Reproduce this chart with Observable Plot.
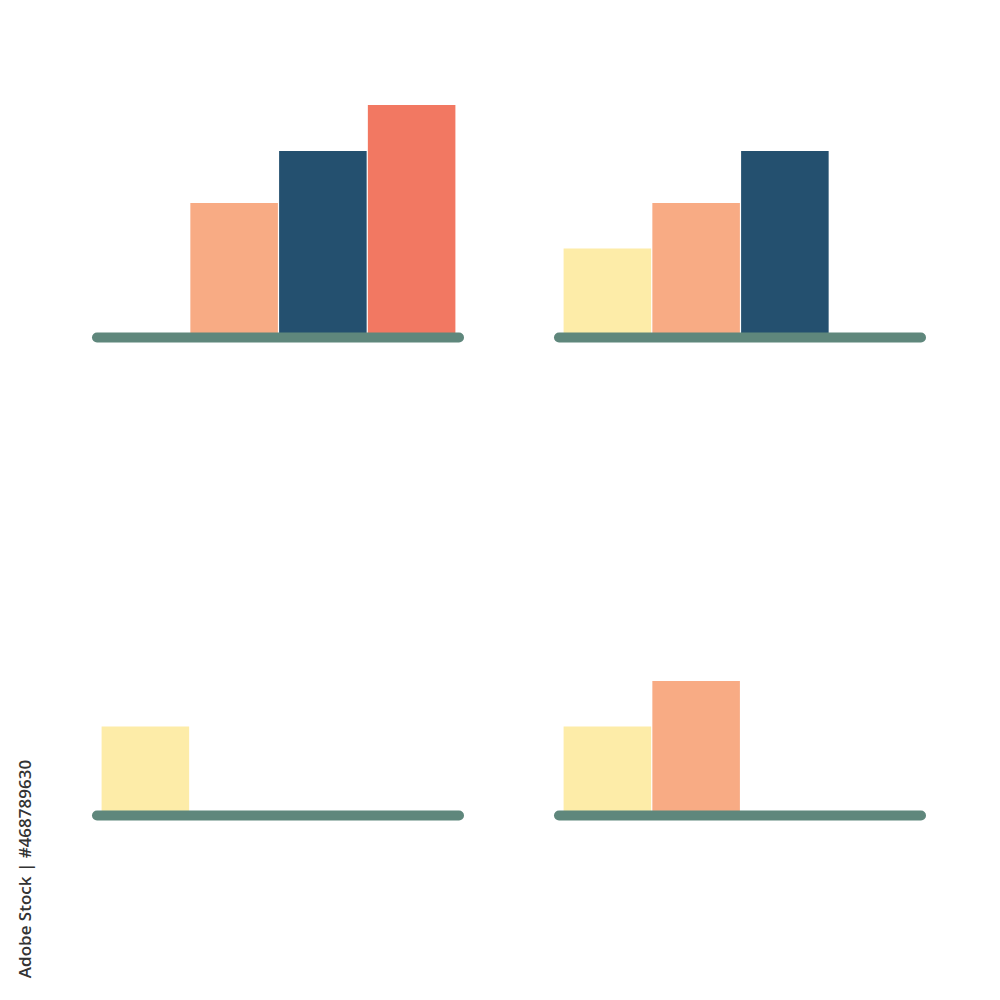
<!DOCTYPE html>
<html>
<head>
<meta charset="utf-8">
<script src="https://cdn.jsdelivr.net/npm/d3@7"></script>
<script src="https://cdn.jsdelivr.net/npm/@observablehq/plot@0.6"></script>
<style>
  html, body { margin: 0; padding: 0; background: #fff; }
  #wrap { position: relative; width: 1000px; height: 1000px; overflow: hidden; }
  #credit {
    position: absolute; left: 24px; top: 869px;
    transform: translate(-50%, -50%) rotate(-90deg);
    white-space: nowrap; font-family: "Open Sans", sans-serif; font-size: 17px; font-weight: 600;
    color: #333; line-height: 1;
  }
</style>
</head>
<body>
<div id="wrap"></div>
<script>
// Categories (bar kinds) and their values
const categories = ["yellow", "peach", "navy", "coral"];
const values = [8.85, 13.4, 18.6, 23.2];
const colors = ["#fdeca8", "#f8ab84", "#24506f", "#f27862"];

// Four panels: column, row, and which category sits in which slot
const slots = ["0", "1", "2", "3"];
const panelCol = ["left", "right", "left", "right"];
const panelRow = ["top", "top", "bottom", "bottom"];
const panelContents = [
  ["", "peach", "navy", "coral"],
  ["yellow", "peach", "navy", ""],
  ["yellow", "", "", ""],
  ["yellow", "peach", "", ""]
];
const creditText = "Adobe Stock | #468789630";

const bars = [];
panelContents.forEach((contents, p) => {
  contents.forEach((cat, s) => {
    if (!cat) return;
    const i = categories.indexOf(cat);
    bars.push({col: panelCol[p], row: panelRow[p], slot: slots[s], cat, value: values[i]});
  });
});

const chart = Plot.plot({
  width: 1000,
  height: 1000,
  marginLeft: 97,
  marginRight: 79,
  marginTop: 37,
  marginBottom: 185,
  fx: {domain: ["left", "right"], paddingInner: 100 / 462, paddingOuter: 0, round: false, axis: null},
  fy: {domain: ["top", "bottom"], paddingInner: 178 / 478, paddingOuter: 0, round: false, axis: null},
  x: {domain: slots, padding: 0, round: false, insetLeft: 4, insetRight: 3, axis: null},
  y: {domain: [0, 30], axis: null},
  color: {domain: categories, range: colors},
  marks: [
    Plot.barY(bars, {fx: "col", fy: "row", x: "slot", y: "value", fill: "cat", insetLeft: 0.6, insetRight: 0.6}),
    Plot.ruleY([0], {stroke: "#5f877c", strokeWidth: 10, strokeLinecap: "round"})
  ]
});

const wrap = document.getElementById("wrap");
wrap.appendChild(chart);
const credit = document.createElement("div");
credit.id = "credit";
credit.textContent = creditText;
wrap.appendChild(credit);
</script>
</body>
</html>
